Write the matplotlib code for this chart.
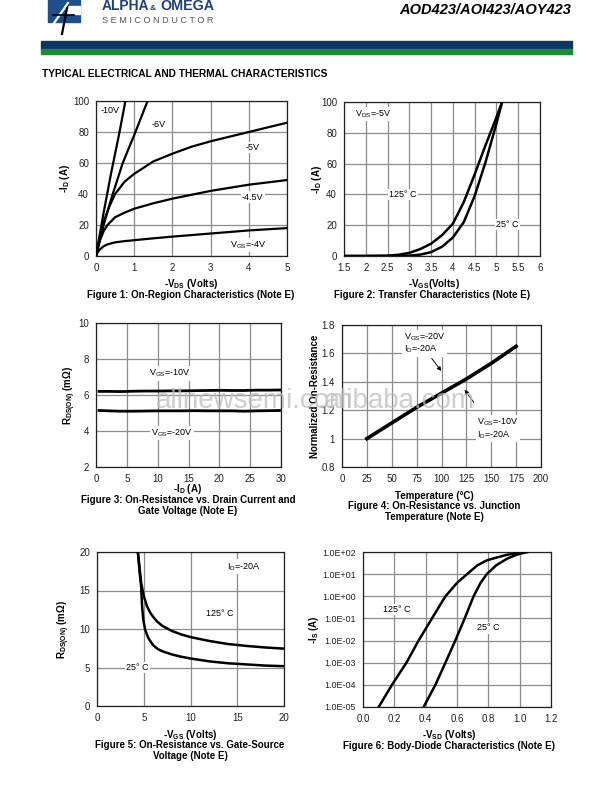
import matplotlib
matplotlib.use("Agg")
import matplotlib.pyplot as plt
from matplotlib.patches import Rectangle
from matplotlib.lines import Line2D
from matplotlib.ticker import FixedLocator, NullLocator

plt.rcParams['font.family'] = ['Liberation Sans', 'DejaVu Sans']
plt.rcParams['mathtext.fontset'] = 'custom'
plt.rcParams['mathtext.rm'] = 'Liberation Sans'
plt.rcParams['mathtext.bf'] = 'Liberation Sans:bold'
plt.rcParams['mathtext.it'] = 'Liberation Sans:italic'

W, H = 615, 794

# ---------------- data ----------------
# Figure 1: On-region characteristics
f1_vds_10 = [0, 0.2, 0.4, 0.6, 0.77]
f1_id_10 = [0, 28, 54, 78, 100]
f1_vds_6 = [0, 0.2, 0.4, 0.7, 1.0, 1.35]
f1_id_6 = [0, 20, 37, 60, 78, 100]
f1_vds_5 = [0, 0.1, 0.2, 0.35, 0.5, 0.75, 1.0, 1.5, 2.0, 2.5, 3.0, 3.5, 4.0, 4.5, 5.0]
f1_id_5 = [0, 12, 22, 32, 40, 48, 53, 61, 66, 70.5, 74, 77, 80, 83, 86]
f1_vds_45 = [0, 0.05, 0.1, 0.2, 0.3, 0.5, 0.75, 1.0, 1.5, 2.0, 2.5, 3.0, 3.5, 4.0, 4.5, 5.0]
f1_id_45 = [0, 5, 10, 16, 20, 25, 28, 30.5, 34, 37, 39.5, 42, 44, 46, 47.5, 49]
f1_vds_4 = [0, 0.05, 0.1, 0.2, 0.3, 0.5, 0.75, 1.0, 1.5, 2.0, 3.0, 4.0, 5.0]
f1_id_4 = [0, 2.5, 4.2, 6.3, 7.5, 8.8, 9.6, 10.2, 11.4, 12.5, 14.5, 16.5, 18]
f1_labels = ["-10V", "-6V", "-5V", "-4.5V", r"V$_\mathregular{GS}$=-4V"]

# Figure 2: Transfer characteristics
f2_vgs_125 = [1.5, 2.0, 2.5, 2.75, 3.0, 3.25, 3.5, 3.75, 4.0, 4.25, 4.5, 4.75, 5.0, 5.13]
f2_id_125 = [0, 0, 0.2, 0.8, 2, 4.5, 8, 13.5, 21, 35, 53, 72, 90, 100]
f2_vgs_25 = [1.5, 2.5, 3.0, 3.25, 3.5, 3.75, 4.0, 4.25, 4.5, 4.75, 5.0, 5.13]
f2_id_25 = [0, 0, 0.2, 0.9, 2.5, 6, 12, 22, 39, 61, 86, 100]

# Figure 3: On-resistance vs drain current
f3_id = [0.5, 2, 4, 6, 8, 10, 12, 14, 16, 18, 20, 22, 24, 26, 28, 30]
f3_r_10 = [6.20, 6.20, 6.19, 6.21, 6.22, 6.22, 6.23, 6.23, 6.24, 6.25, 6.26, 6.25, 6.25, 6.27, 6.27, 6.28]
f3_r_20 = [5.14, 5.12, 5.10, 5.10, 5.11, 5.12, 5.12, 5.12, 5.13, 5.12, 5.12, 5.12, 5.10, 5.12, 5.13, 5.14]

# Figure 4: Normalized on-resistance vs temperature
f4_t = [25, 50, 75, 100, 125, 150, 175]
f4_r = [1.00, 1.11, 1.22, 1.32, 1.42, 1.53, 1.65]

# Figure 5: On-resistance vs gate-source voltage
f5_vgs_125 = [4.37, 4.55, 4.72, 5.0, 5.33, 5.7, 6.0, 6.4, 7.0, 8.0, 9.0, 10.0, 12.0, 14.0, 16.0, 18.0, 20.0]
f5_r_125 = [20, 18, 16, 14.3, 13.0, 12.1, 11.6, 11.0, 10.4, 9.75, 9.3, 8.95, 8.45, 8.05, 7.8, 7.6, 7.45]
f5_vgs_25 = [4.37, 4.55, 4.72, 4.82, 4.95, 5.15, 5.5, 6.0, 6.5, 7.0, 8.0, 9.0, 10.0, 12.0, 14.0, 16.0, 18.0, 20.0]
f5_r_25 = [20, 17.5, 15.5, 13.0, 11.2, 9.9, 8.8, 7.9, 7.4, 7.1, 6.7, 6.4, 6.17, 5.8, 5.55, 5.4, 5.25, 5.17]

# Figure 6: Body-diode characteristics
f6_vsd_125 = [0.10, 0.185, 0.277, 0.355, 0.44, 0.526, 0.60, 0.664, 0.73, 0.79, 0.86, 0.92, 0.98, 1.047]
f6_is_125 = [1e-5, 1e-4, 1e-3, 1e-2, 1e-1, 1e0, 4.0, 1e1, 25, 42, 58, 75, 88, 100]
f6_vsd_25 = [0.387, 0.462, 0.526, 0.589, 0.649, 0.706, 0.75, 0.79, 0.85, 0.92, 0.98, 1.047]
f6_is_25 = [1e-5, 1e-4, 1e-3, 1e-2, 1e-1, 1e0, 4.0, 1e1, 25, 50, 75, 100]
f6_yticks = [1e-5, 1e-4, 1e-3, 1e-2, 1e-1, 1e0, 1e1, 1e2]
f6_yticklabels = ["1.0E-05", "1.0E-04", "1.0E-03", "1.0E-02", "1.0E-01", "1.0E+00", "1.0E+01", "1.0E+02"]
f6_xticklabels = ["0.0", "0.2", "0.4", "0.6", "0.8", "1.0", "1.2"]

# ---------------- figure ----------------
fig = plt.figure(figsize=(W / 100, H / 100), dpi=100)
fig.patch.set_facecolor("white")


def fx(x):
    return x / W


def fy(y):
    return 1 - y / H


def ax_at(l, t, r, b):
    return fig.add_axes([fx(l), fy(b), (r - l) / W, (b - t) / H])


def style(ax):
    ax.grid(True, color="#8c8c8c", lw=0.9)
    ax.set_axisbelow(True)
    for s in ax.spines.values():
        s.set_color("#222222")
        s.set_linewidth(0.9)
    ax.tick_params(length=0, labelsize=7, pad=5, colors="#222222")


BOX = dict(facecolor="white", edgecolor="none", pad=1.0)
LC = "black"

# header
fig.add_artist(Rectangle((fx(48), fy(22)), 32 / W, 22 / H, color="#1f4e8c", transform=fig.transFigure))
fig.add_artist(Rectangle((fx(66), fy(14)), 14 / W, 8 / H, color="white", transform=fig.transFigure))
fig.add_artist(Line2D([fx(62), fx(68)], [fy(34), fy(3)], color="black", lw=1.6, transform=fig.transFigure))
fig.add_artist(Line2D([fx(52), fx(68)], [fy(26), fy(3)], color="white", lw=1.6, transform=fig.transFigure))
fig.add_artist(Line2D([fx(53), fx(74)], [fy(15), fy(15)], color="black", lw=1.2, transform=fig.transFigure))
fig.text(fx(102), fy(10.5), "ALPHA", fontsize=10, fontweight="bold", color="#1f3f7a", va="baseline", ha="left")
fig.text(fx(150), fy(10.5), "&", fontsize=6, fontweight="bold", color="#1f3f7a", va="baseline", ha="left")
fig.text(fx(160), fy(10.5), "OMEGA", fontsize=10.3, fontweight="bold", color="#1f3f7a", va="baseline", ha="left")
fig.text(fx(102), fy(23), "S E M I C O N D U C T O R", fontsize=6.6, color="#555555", va="baseline", ha="left")
fig.text(fx(571), fy(10), "AOD423/AOI423/AOY423", fontsize=10.5, fontweight="bold", style="italic",
         va="center", ha="right")
fig.add_artist(Rectangle((fx(41), fy(49)), 531 / W, 8 / H, color="#0c3566", transform=fig.transFigure))
fig.add_artist(Rectangle((fx(41), fy(54)), 531 / W, 5 / H, color="#1c8a2e", transform=fig.transFigure))
fig.text(fx(42), fy(74), "TYPICAL ELECTRICAL AND THERMAL CHARACTERISTICS", fontsize=7.3,
         fontweight="bold", va="center", ha="left")

# ---------- Figure 1 ----------
ax = ax_at(96, 101, 287, 256)
style(ax)
for xs, ys in [(f1_vds_10, f1_id_10), (f1_vds_6, f1_id_6), (f1_vds_5, f1_id_5),
               (f1_vds_45, f1_id_45), (f1_vds_4, f1_id_4)]:
    ax.plot(xs, ys, color=LC, lw=1.6, solid_capstyle="round", zorder=3)
ax.set_xlim(0, 5)
ax.set_ylim(0, 100)
ax.set_xticks([0, 1, 2, 3, 4, 5])
ax.set_yticks([0, 20, 40, 60, 80, 100])
for lab, (x, y) in zip(f1_labels, [(0.38, 94), (1.65, 85), (4.1, 70), (4.1, 38), (4.0, 7)]):
    ax.text(x, y, lab, fontsize=6.5, ha="center", va="center", bbox=BOX, zorder=4)
ax.set_ylabel(r"-I$_\mathbf{D}$ (A)", fontsize=7, fontweight="bold", labelpad=1)
fig.text(fx(191), fy(284), r"-V$_\mathbf{DS}$ (Volts)", fontsize=7, fontweight="bold", ha="center", va="center")
fig.text(fx(191), fy(295), "Figure 1: On-Region Characteristics (Note E)", fontsize=7, fontweight="bold",
         ha="center", va="center")

# ---------- Figure 2 ----------
ax = ax_at(344, 102, 540, 256)
style(ax)
ax.plot(f2_vgs_125, f2_id_125, color=LC, lw=1.8, zorder=3)
ax.plot(f2_vgs_25, f2_id_25, color=LC, lw=1.8, zorder=3)
ax.set_xlim(1.5, 6)
ax.set_ylim(0, 100)
ax.set_xticks([1.5, 2, 2.5, 3, 3.5, 4, 4.5, 5, 5.5, 6])
ax.set_xticklabels(["1.5", "2", "2.5", "3", "3.5", "4", "4.5", "5", "5.5", "6"])
ax.set_yticks([0, 20, 40, 60, 80, 100])
ax.text(1.75, 92, r"V$_\mathregular{DS}$=-5V", fontsize=6.5, ha="left", va="center", bbox=BOX, zorder=4)
ax.text(2.85, 40, "125° C", fontsize=6.5, ha="center", va="center", bbox=BOX, zorder=4)
ax.text(5.25, 20.5, "25° C", fontsize=6.5, ha="center", va="center", bbox=BOX, zorder=4)
ax.set_ylabel(r"-I$_\mathbf{D}$ (A)", fontsize=7, fontweight="bold", labelpad=-2)
fig.text(fx(434), fy(284), r"-V$_\mathbf{GS}$(Volts)", fontsize=7, fontweight="bold", ha="center", va="center")
fig.text(fx(432), fy(295), "Figure 2: Transfer Characteristics (Note E)", fontsize=7, fontweight="bold",
         ha="center", va="center")

# ---------- Figure 3 ----------
ax = ax_at(96, 323, 281, 467)
style(ax)
ax.plot(f3_id, f3_r_10, color=LC, lw=2.0, zorder=3)
ax.plot(f3_id, f3_r_20, color=LC, lw=2.0, zorder=3)
ax.set_xlim(0, 30)
ax.set_ylim(2, 10)
ax.set_xticks([0, 5, 10, 15, 20, 25, 30])
ax.set_yticks([2, 4, 6, 8, 10])
ax.text(12.0, 7.2, r"V$_\mathregular{GS}$=-10V", fontsize=6.5, ha="center", va="center", bbox=BOX, zorder=4)
ax.text(12.3, 3.9, r"V$_\mathregular{GS}$=-20V", fontsize=6.5, ha="center", va="center", bbox=BOX, zorder=4)
ax.set_ylabel(r"R$_\mathbf{DS(ON)}$ (m$\mathbf{\Omega}$)", fontsize=7, fontweight="bold", labelpad=0)
fig.text(fx(188), fy(489), r"-I$_\mathbf{D}$ (A)", fontsize=7, fontweight="bold", ha="center", va="center")
fig.text(fx(188), fy(500), "Figure 3: On-Resistance vs. Drain Current and", fontsize=7, fontweight="bold",
         ha="center", va="center")
fig.text(fx(188), fy(511), "Gate Voltage (Note E)", fontsize=7, fontweight="bold", ha="center", va="center")

# ---------- Figure 4 ----------
ax = ax_at(342, 325, 541, 467)
style(ax)
ax.plot(f4_t, f4_r, color=LC, lw=2.6, zorder=3)
ax.set_xlim(0, 200)
ax.set_ylim(0.8, 1.8)
ax.set_xticks([0, 25, 50, 75, 100, 125, 150, 175, 200])
ax.set_yticks([0.8, 1.0, 1.2, 1.4, 1.6, 1.8])
ax.set_yticklabels(["0.8", "1", "1.2", "1.4", "1.6", "1.8"])
ax.text(62, 1.67, "V$_\\mathregular{GS}$=-20V\nI$_\\mathregular{D}$=-20A", fontsize=6.5, ha="left", va="center",
        bbox=BOX, zorder=4, linespacing=1.0)
ax.text(136, 1.07, "V$_\\mathregular{GS}$=-10V\nI$_\\mathregular{D}$=-20A", fontsize=6.5, ha="left", va="center",
        bbox=BOX, zorder=4, linespacing=1.0)
ax.annotate("", xy=(101.5, 1.46), xytext=(88.5, 1.58),
            arrowprops=dict(arrowstyle="-|>", color="black", lw=0.7, mutation_scale=6), zorder=5)
ax.annotate("", xy=(121.5, 1.36), xytext=(134, 1.24),
            arrowprops=dict(arrowstyle="-|>", color="black", lw=0.7, mutation_scale=6), zorder=5)
ax.set_ylabel("Normalized On-Resistance", fontsize=7, fontweight="bold", labelpad=1)
fig.text(fx(434), fy(496), "Temperature (°C)", fontsize=7, fontweight="bold", ha="center", va="center")
fig.text(fx(434), fy(506), "Figure 4: On-Resistance vs. Junction", fontsize=7, fontweight="bold",
         ha="center", va="center")
fig.text(fx(434), fy(517), "Temperature (Note E)", fontsize=7, fontweight="bold", ha="center", va="center")

# ---------- Figure 5 ----------
ax = ax_at(97, 552, 284, 706)
style(ax)
ax.plot(f5_vgs_125, f5_r_125, color=LC, lw=1.8, zorder=3)
ax.plot(f5_vgs_25, f5_r_25, color=LC, lw=1.8, zorder=3)
ax.set_xlim(0, 20)
ax.set_ylim(0, 20)
ax.set_xticks([0, 5, 10, 15, 20])
ax.set_yticks([0, 5, 10, 15, 20])
ax.text(13.9, 18.1, r"I$_\mathregular{D}$=-20A", fontsize=6.5, ha="left", va="center", bbox=BOX, zorder=4)
ax.text(13.1, 12.0, "125° C", fontsize=6.5, ha="center", va="center", bbox=BOX, zorder=4)
ax.text(4.3, 5.0, "25° C", fontsize=6.5, ha="center", va="center", bbox=BOX, zorder=4)
ax.set_ylabel(r"R$_\mathbf{DS(ON)}$ (m$\mathbf{\Omega}$)", fontsize=7, fontweight="bold", labelpad=5)
fig.text(fx(190), fy(735), r"-V$_\mathbf{GS}$ (Volts)", fontsize=7, fontweight="bold", ha="center", va="center")
fig.text(fx(190), fy(745), "Figure 5: On-Resistance vs. Gate-Source", fontsize=7, fontweight="bold",
         ha="center", va="center")
fig.text(fx(190), fy(756), "Voltage (Note E)", fontsize=7, fontweight="bold", ha="center", va="center")

# ---------- Figure 6 ----------
ax = ax_at(363, 552, 551, 707)
style(ax)
ax.set_yscale("log")
ax.plot(f6_vsd_125, f6_is_125, color=LC, lw=1.8, zorder=3)
ax.plot(f6_vsd_25, f6_is_25, color=LC, lw=1.8, zorder=3)
ax.set_xlim(0, 1.2)
ax.set_ylim(1e-5, 1e2)
ax.set_xticks([0, 0.2, 0.4, 0.6, 0.8, 1.0, 1.2])
ax.set_xticklabels(f6_xticklabels)
ax.yaxis.set_major_locator(FixedLocator(f6_yticks))
ax.yaxis.set_minor_locator(NullLocator())
ax.set_yticklabels(f6_yticklabels)
ax.tick_params(axis="y", labelsize=6.5)
ax.text(0.217, 0.25, "125° C", fontsize=6.5, ha="center", va="center", bbox=BOX, zorder=4)
ax.text(0.80, 0.037, "25° C", fontsize=6.5, ha="center", va="center", bbox=BOX, zorder=4)
ax.set_ylabel(r"-I$_\mathbf{S}$ (A)", fontsize=7, fontweight="bold", labelpad=1)
fig.text(fx(449), fy(735), r"-V$_\mathbf{SD}$ (Volts)", fontsize=7, fontweight="bold", ha="center", va="center")
fig.text(fx(449), fy(746), "Figure 6: Body-Diode Characteristics (Note E)", fontsize=7, fontweight="bold",
         ha="center", va="center")

# watermarks
fig.text(fx(156), fy(401), "allnewsemi.com", fontsize=20, color="#bdbdbd", alpha=0.75, ha="left", va="center",
         zorder=10)
fig.text(fx(318), fy(401), ".alibaba.com", fontsize=20, color="#bdbdbd", alpha=0.75, ha="left", va="center",
         zorder=10)

fig.savefig("out.png", dpi=100, facecolor="white")
